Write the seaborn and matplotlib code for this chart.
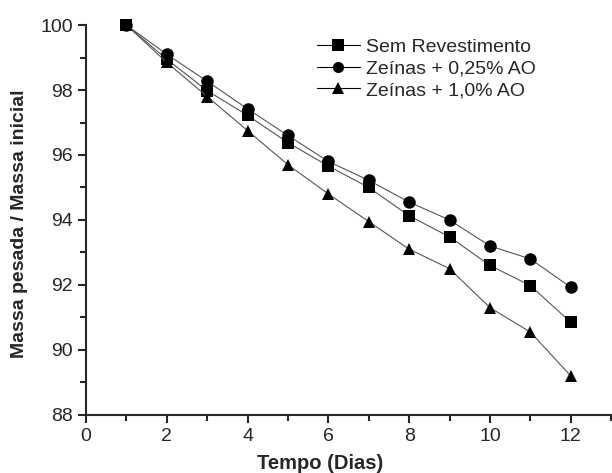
import numpy as np
import pandas as pd
import matplotlib
matplotlib.use("Agg")
import matplotlib.pyplot as plt
import seaborn as sns
from matplotlib.ticker import MultipleLocator

# dados
dias = [1, 2, 3, 4, 5, 6, 7, 8, 9, 10, 11, 12]
sem_revestimento = [100, 98.95, 97.98, 97.22, 96.38, 95.66, 95.0, 94.13, 93.48, 92.6, 91.98, 90.85]
zeinas_025 = [100, 99.1, 98.27, 97.42, 96.6, 95.8, 95.22, 94.55, 94.0, 93.2, 92.8, 91.93]
zeinas_10 = [100, 98.85, 97.8, 96.75, 95.7, 94.8, 93.95, 93.1, 92.5, 91.3, 90.55, 89.2]
series = ["Sem Revestimento", "Zeínas + 0,25% AO", "Zeínas + 1,0% AO"]

df = pd.DataFrame({
    "dia": dias * 3,
    "massa": sem_revestimento + zeinas_025 + zeinas_10,
    "serie": [series[0]] * 12 + [series[1]] * 12 + [series[2]] * 12,
})

sns.set_style("ticks")
plt.rcParams["font.family"] = ["Liberation Sans", "DejaVu Sans"]

fig = plt.figure(figsize=(6.12, 4.73), dpi=100)
ax = fig.add_axes([0.1405, 0.123, 0.858, 0.824])

sns.lineplot(data=df, x="dia", y="massa", style="serie", style_order=series,
             markers=["s", "o", "^"], dashes=False, color="black",
             markersize=9, linewidth=0.8, markeredgewidth=0, ax=ax,
             legend="full")

for ln in ax.lines:
    ln.set_color("#555555")
    ln.set_markerfacecolor("black")
    ln.set_markeredgecolor("black")
    ln.set_clip_on(False)

ax.set_xlim(0, 13)
ax.set_ylim(88, 100)
ax.xaxis.set_major_locator(MultipleLocator(2))
ax.xaxis.set_minor_locator(MultipleLocator(1))
ax.yaxis.set_major_locator(MultipleLocator(2))
ax.yaxis.set_minor_locator(MultipleLocator(1))
ax.set_xticks([0, 2, 4, 6, 8, 10, 12])
ax.tick_params(which="major", length=6, width=1.5, labelsize=14, direction="out")
ax.tick_params(which="minor", length=4, width=1.5, direction="out")
for s in ["left", "bottom"]:
    ax.spines[s].set_linewidth(1.5)
sns.despine(ax=ax)

ax.set_xlabel("Tempo (Dias)", fontsize=14.5, fontweight="bold")
ax.xaxis.set_label_coords(0.446, -0.1)
ax.set_ylabel("Massa pesada / Massa inicial", fontsize=14, fontweight="bold")
ax.yaxis.set_label_coords(-0.11, 0.49)

leg = ax.legend(frameon=False, fontsize=14, loc="upper left",
                bbox_to_anchor=(0.425, 0.985), handlelength=2.2,
                handletextpad=0.3, labelspacing=0.2, borderaxespad=0)
for h in leg.legend_handles:
    h.set_color("black")
    h.set_markerfacecolor("black")
    h.set_markersize(8)

fig.savefig("out.png", dpi=100)
